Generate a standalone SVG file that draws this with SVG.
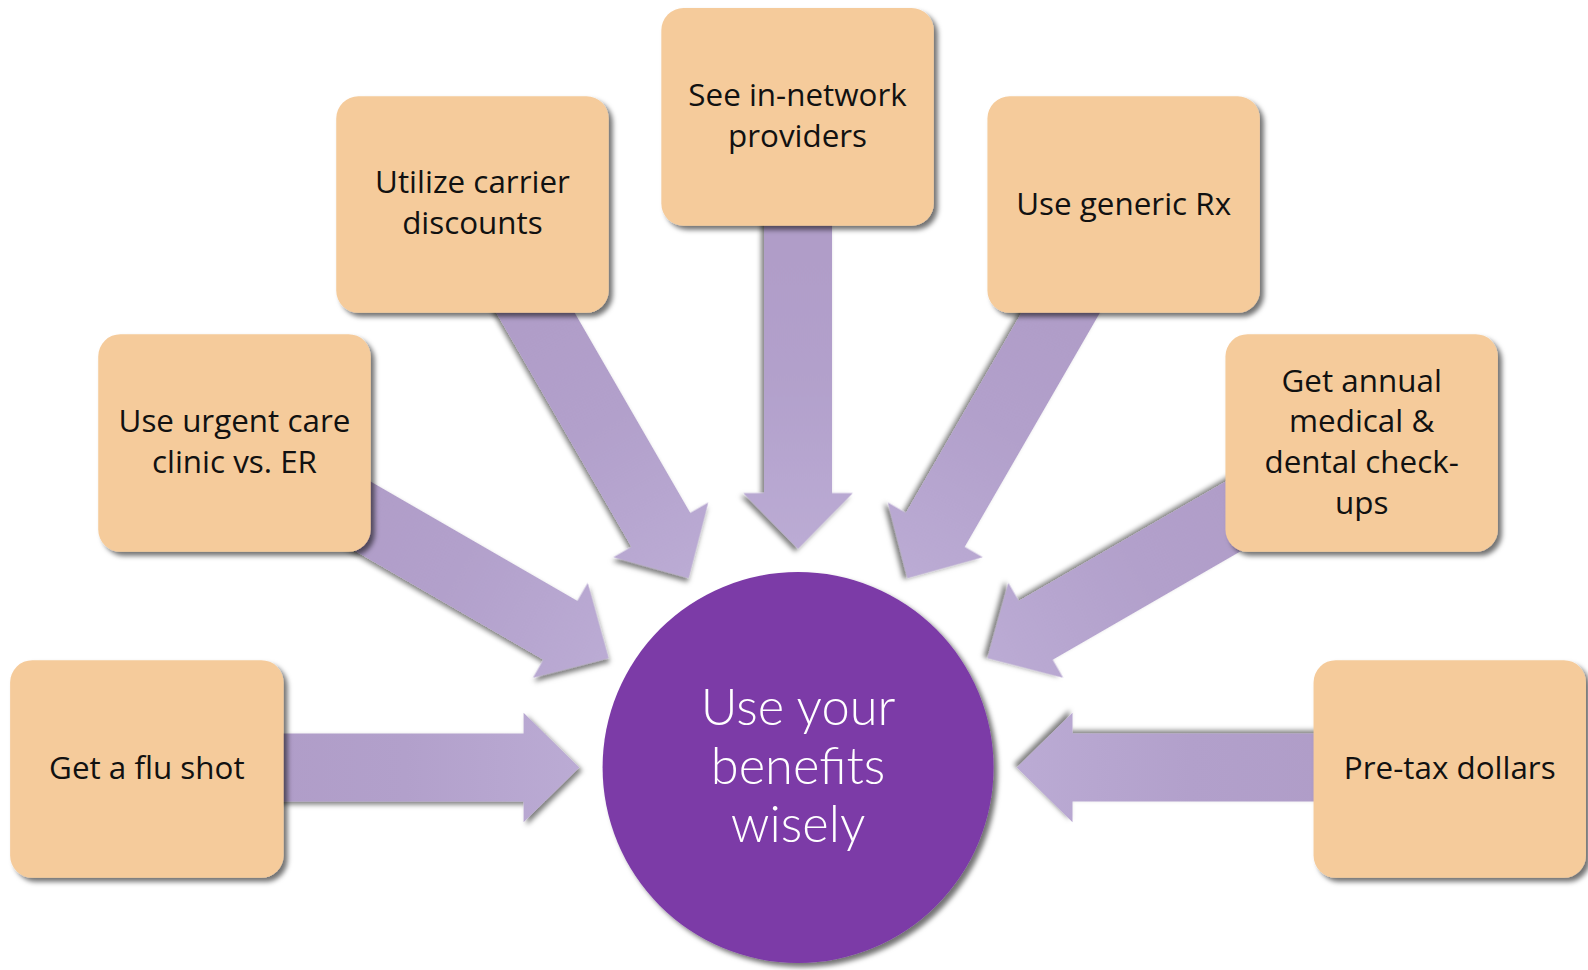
<svg xmlns="http://www.w3.org/2000/svg" width="1588" height="970" viewBox="0 0 1588 970">
<defs>
<style>
.box{fill:#F5CB9B;filter:url(#sh);}
.arr{fill:url(#ag);filter:url(#sh2);}
.t{font-family:"Open Sans","Lato","Liberation Sans",sans-serif;font-size:31px;fill:#111;text-anchor:middle;}
.c{font-family:"Lato","Open Sans","Liberation Sans",sans-serif;font-weight:300;font-size:50px;fill:#fff;text-anchor:middle;}
</style>
<filter id="sh" x="-10%" y="-10%" width="125%" height="125%">
<feDropShadow dx="4" dy="4" stdDeviation="2.5" flood-color="#000" flood-opacity="0.55"/>
</filter>
<filter id="sh2" x="-10%" y="-20%" width="125%" height="140%">
<feDropShadow dx="3" dy="3" stdDeviation="2.5" flood-color="#000" flood-opacity="0.5"/>
</filter>
<linearGradient id="ag" gradientUnits="userSpaceOnUse" x1="-216" y1="0" x2="-560" y2="0">
<stop offset="0" stop-color="#BBABD4"/>
<stop offset="0.5" stop-color="#B2A0CB"/>
<stop offset="1" stop-color="#AF9CC7"/>
</linearGradient>
<polygon id="arrow" points="-216,0 -271,-54 -271,-33.5 -560,-33.5 -560,33.5 -271,33.5 -271,54"/>
</defs>
<rect width="1588" height="970" fill="#fff"/>
<g transform="scale(1.01276,1.01253)">
<g id="connectors">
<g transform="translate(788,758)">
<use href="#arrow" class="arr" transform="rotate(0)"/>
<use href="#arrow" class="arr" transform="rotate(30)"/>
<use href="#arrow" class="arr" transform="rotate(60)"/>
<use href="#arrow" class="arr" transform="rotate(90)"/>
<use href="#arrow" class="arr" transform="rotate(120)"/>
<use href="#arrow" class="arr" transform="rotate(150)"/>
<use href="#arrow" class="arr" transform="rotate(180)"/>
</g>
</g>
<g id="node-flu">
<rect class="box" x="10" y="652" width="270" height="215" rx="22"/>
<text class="t" x="145" y="769">Get a flu shot</text>
</g>
<g id="node-urgent">
<rect class="box" x="97" y="330" width="269" height="215" rx="22"/>
<text class="t" x="231.5" y="427">Use urgent care</text>
<text class="t" x="231.5" y="467">clinic vs. ER</text>
</g>
<g id="node-carrier">
<rect class="box" x="332" y="95" width="269" height="214" rx="22"/>
<text class="t" x="466.5" y="191">Utilize carrier</text>
<text class="t" x="466.5" y="231">discounts</text>
</g>
<g id="node-network">
<rect class="box" x="653" y="8" width="269" height="215" rx="22"/>
<text class="t" x="787.5" y="105">See in-network</text>
<text class="t" x="787.5" y="145">providers</text>
</g>
<g id="node-generic">
<rect class="box" x="975" y="95" width="269" height="214" rx="22"/>
<text class="t" x="1109.5" y="212">Use generic Rx</text>
</g>
<g id="node-annual">
<rect class="box" x="1210" y="330" width="269" height="215" rx="22"/>
<text class="t" x="1344.5" y="387">Get annual</text>
<text class="t" x="1344.5" y="427">medical &amp;</text>
<text class="t" x="1344.5" y="467">dental check-</text>
<text class="t" x="1344.5" y="508">ups</text>
</g>
<g id="node-pretax">
<rect class="box" x="1297" y="652" width="269" height="215" rx="22"/>
<text class="t" x="1431.5" y="769">Pre-tax dollars</text>
</g>
<g id="node-center">
<circle cx="788" cy="758" r="193" fill="#7B3AA7" filter="url(#sh)"/>
<text class="c" x="788" y="716">Use your</text>
<text class="c" x="788" y="774">benefits</text>
<text class="c" x="788" y="832">wisely</text>
</g>
</g>
</svg>
